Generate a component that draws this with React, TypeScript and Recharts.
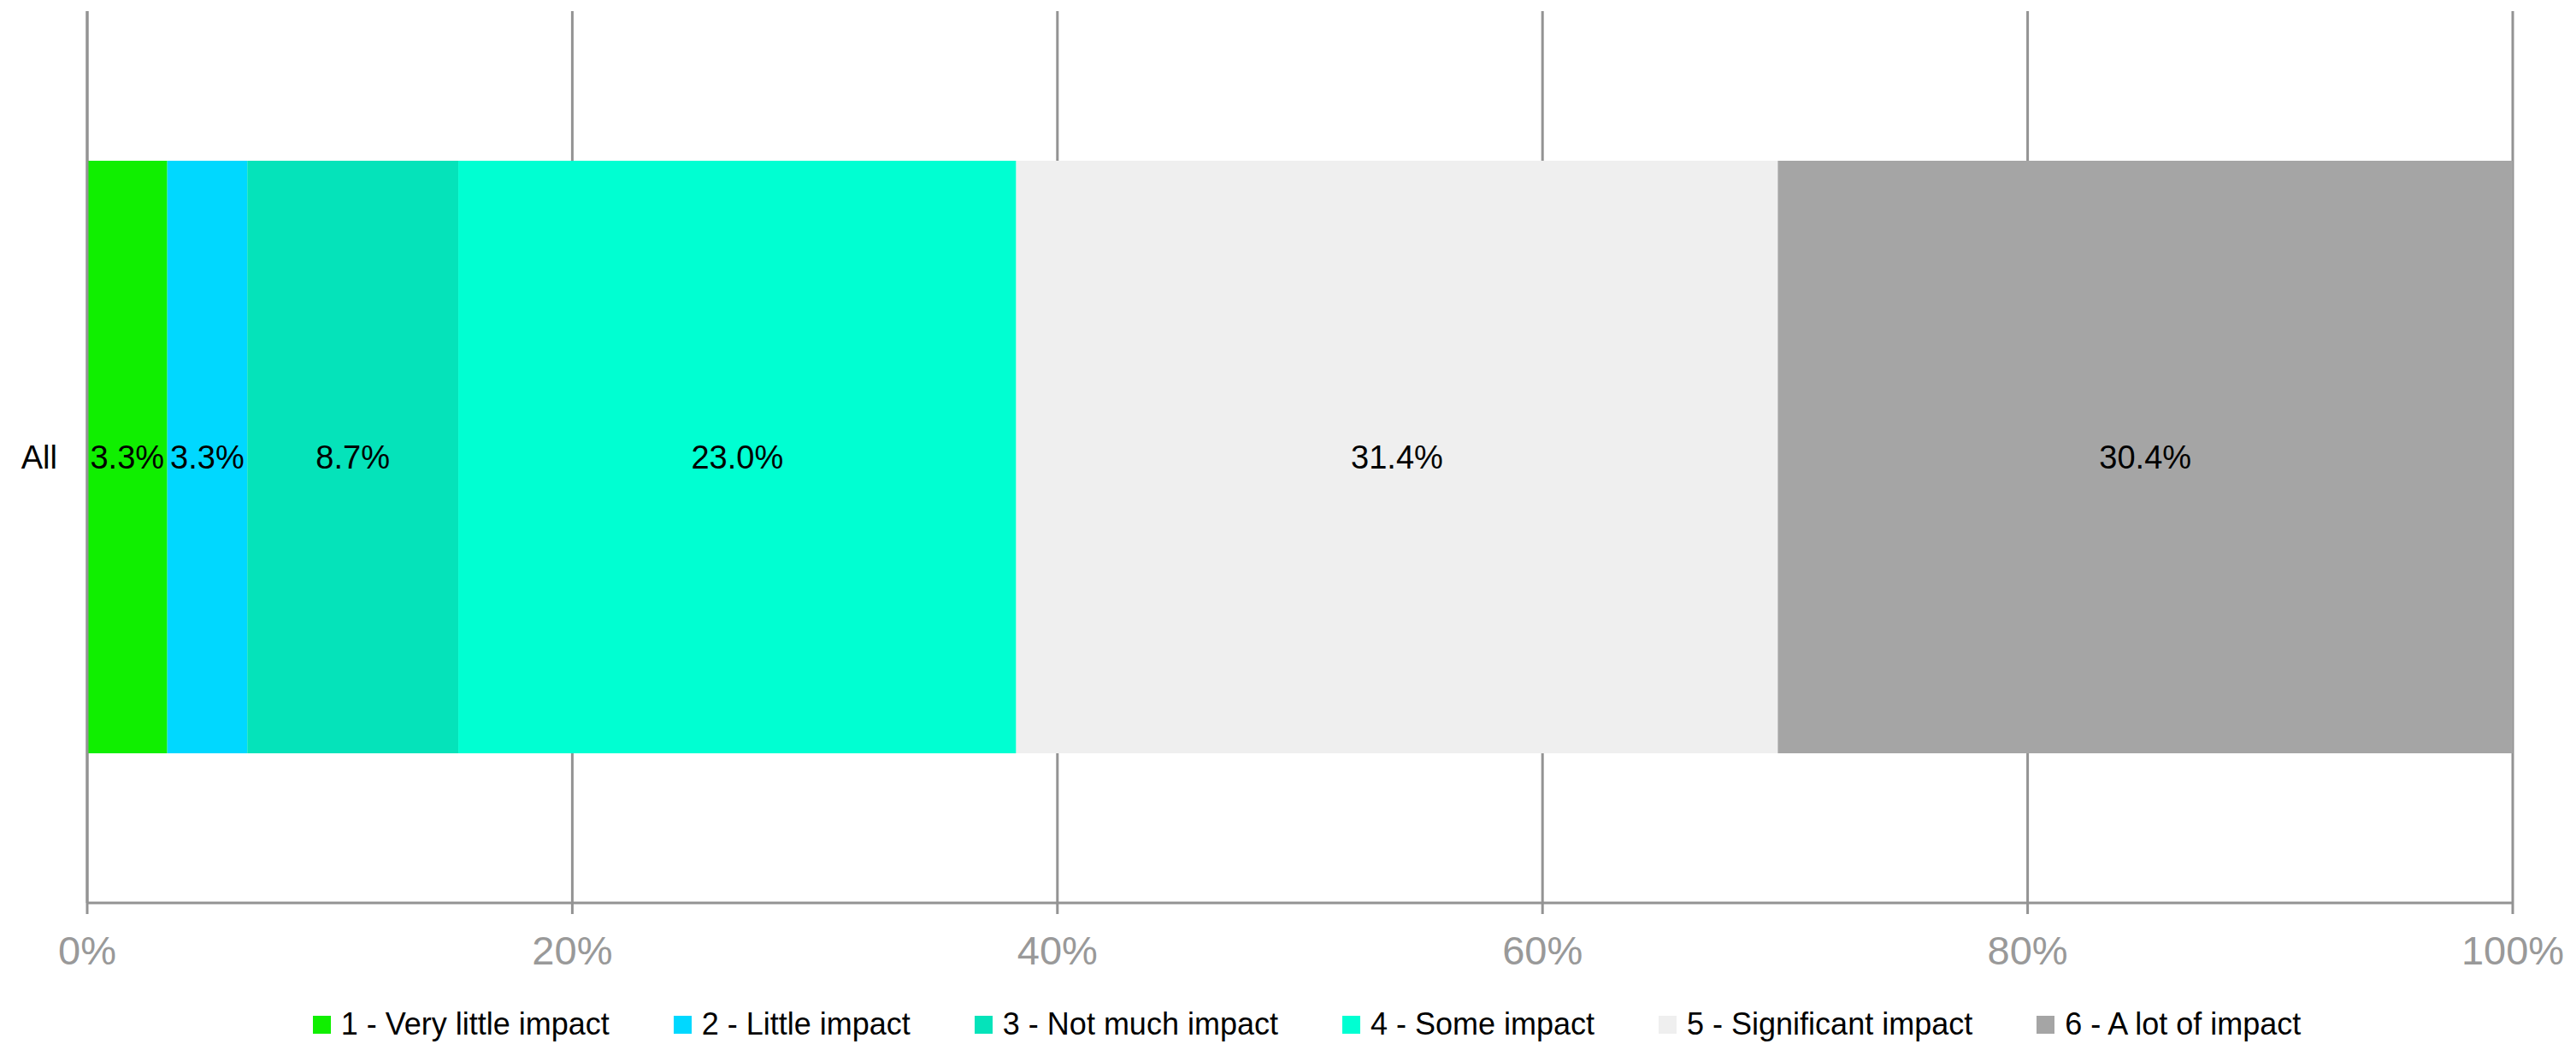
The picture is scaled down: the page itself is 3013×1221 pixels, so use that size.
import { Bar, BarChart, CartesianGrid, LabelList, Legend, XAxis, YAxis } from 'recharts';

const categories = ['All'];
const seriesNames = [
  '1 - Very little impact',
  '2 - Little impact',
  '3 - Not much impact',
  '4 - Some impact',
  '5 - Significant impact',
  '6 - A lot of impact',
];
const seriesValues = [3.3, 3.3, 8.7, 23.0, 31.4, 30.4];
const seriesColors = ['#10EF00', '#00D8FF', '#05E3BA', '#00FFD2', '#EFEFEF', '#A5A5A5'];
const xTicks = [0, 20, 40, 60, 80, 100];

const AXIS_GREY = '#939393';
const FONT = "'Liberation Sans', Arial, sans-serif";

const data = categories.map((category) => {
  const row: Record<string, string | number> = { category };
  seriesValues.forEach((v, i) => {
    row[`s${i}`] = v;
  });
  return row;
});

function ChartLegend() {
  return (
    <div
      style={{
        height: 40,
        display: 'flex',
        alignItems: 'center',
        justifyContent: 'center',
        paddingLeft: 118,
        boxSizing: 'border-box',
        fontFamily: FONT,
        fontSize: 36,
        color: '#000',
        whiteSpace: 'nowrap',
      }}
    >
      {seriesNames.map((name, i) => (
        <div key={name} style={{ display: 'flex', alignItems: 'center', marginLeft: i === 0 ? 0 : 75 }}>
          <span style={{ width: 21, height: 21, background: seriesColors[i], marginRight: 12, display: 'inline-block' }} />
          <span>{name}</span>
        </div>
      ))}
    </div>
  );
}

export default function App() {
  return (
    <div style={{ position: 'absolute', left: 0, top: 0, background: '#fff' }}>
      <BarChart
        layout="vertical"
        width={3013}
        height={1221}
        data={data}
        margin={{ top: 13, right: 74, bottom: 3, left: 0 }}
      >
        <CartesianGrid horizontal={false} stroke={AXIS_GREY} strokeWidth={3} />
        <XAxis
          type="number"
          domain={[0, 100]}
          ticks={xTicks}
          allowDataOverflow
          tickFormatter={(v) => `${v}%`}
          stroke={AXIS_GREY}
          strokeWidth={3}
          tickSize={13}
          tickMargin={26}
          height={122}
          tick={{ fill: '#999', fontSize: 47, fontFamily: FONT }}
        />
        <YAxis
          type="category"
          dataKey="category"
          width={102}
          stroke={AXIS_GREY}
          strokeWidth={3}
          tickLine={false}
          tickSize={0}
          tickMargin={35}
          tick={{ fill: '#000', fontSize: 38, fontFamily: FONT }}
        />
        <Legend verticalAlign="bottom" content={() => <ChartLegend />} />
        {seriesNames.map((name, i) => (
          <Bar
            key={name}
            name={name}
            dataKey={`s${i}`}
            stackId="a"
            fill={seriesColors[i]}
            barSize={693}
            isAnimationActive={false}
          >
            <LabelList
              dataKey={`s${i}`}
              position="center"
              formatter={(v: number) => `${Number(v).toFixed(1)}%`}
              fill="#000"
              fontSize={38}
              fontFamily={FONT}
            />
          </Bar>
        ))}
      </BarChart>
    </div>
  );
}
